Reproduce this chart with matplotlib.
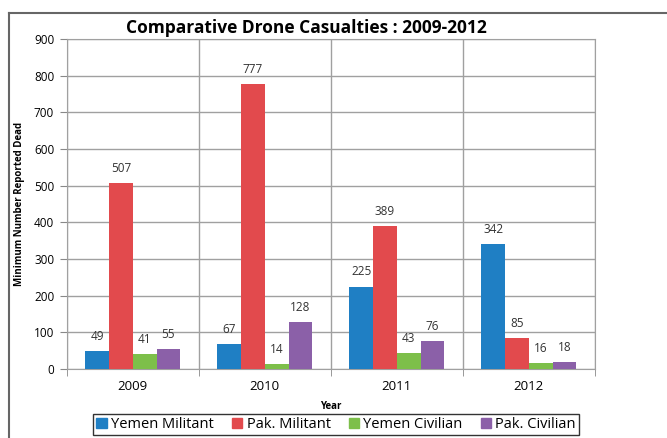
import matplotlib.pyplot as plt
import numpy as np
from matplotlib.patches import Rectangle
from matplotlib.lines import Line2D

#=========================================#
years = ['2009', '2010', '2011', '2012']
series = ['Yemen Militant', 'Pak. Militant', 'Yemen Civilian', 'Pak. Civilian']
yemen_militant = [49, 67, 225, 342]
pak_militant = [507, 777, 389, 85]
yemen_civilian = [41, 14, 43, 16]
pak_civilian = [55, 128, 76, 18]
colors = ['#1f7fc4', '#e24a4d', '#7dbf4a', '#8b60a8']
#=========================================#

plt.rcParams['font.family'] = ['Open Sans', 'DejaVu Sans']

fig = plt.figure(figsize=(6.67, 4.38), dpi=100)
ax = fig.add_axes([0.100, 0.1575, 0.792, 0.7535])

x = np.arange(len(years))
w = 0.18
data = [yemen_militant, pak_militant, yemen_civilian, pak_civilian]
for k in range(4):
    pos = x + (k - 1.5) * w
    ax.bar(pos, data[k], width=w, color=colors[k], label=series[k], zorder=3)
    for px, v in zip(pos, data[k]):
        ax.text(px, v + 22, str(v), ha='center', va='bottom', fontsize=8.5, color='#333333')

ax.set_xlim(-0.5, 3.5)
ax.set_ylim(0, 900)
ax.set_yticks(np.arange(0, 901, 100))
ax.set_xticks(x)
ax.set_xticklabels(years, fontsize=9.5)
ax.set_xticks([-0.5, 0.5, 1.5, 2.5, 3.5], minor=True)
ax.tick_params(axis='x', which='major', length=0, pad=8)
ax.tick_params(axis='x', which='minor', length=5, color='#888888')
ax.tick_params(axis='y', length=5, color='#888888', labelsize=8.5, pad=4)
ax.grid(axis='y', color='#a0a0a0', lw=1, zorder=0)
ax.grid(axis='x', which='minor', color='#a0a0a0', lw=1, zorder=0)
for s in ax.spines.values():
    s.set_color('#a0a0a0')

fig.text(0.459, 0.937, 'Comparative Drone Casualties : 2009-2012', fontsize=12.5,
         fontweight='bold', ha='center', va='center')
ax.set_xlabel('Year', fontsize=7, fontweight='bold', labelpad=6)
ax.set_ylabel('Minimum Number Reported Dead', fontsize=7, fontweight='bold', labelpad=6)

handles = [Rectangle((0, 0), 1, 1, color=c) for c in colors]
leg = fig.legend(handles, series, loc='center', bbox_to_anchor=(0.504, 0.031), ncol=4,
                 fontsize=10.5, frameon=True, fancybox=False, edgecolor='black',
                 handlelength=0.7, handleheight=0.7, handletextpad=0.3,
                 columnspacing=1.25, borderpad=0.2)
leg.get_frame().set_linewidth(1)

# outer chart frame
fig.add_artist(Line2D([0.013, 1.0], [0.970, 0.970], color='#666666', lw=1.5))
fig.add_artist(Line2D([0.013, 0.013], [0.0, 0.970], color='#666666', lw=1.5))

plt.savefig('out.png', format='png', dpi=100)
